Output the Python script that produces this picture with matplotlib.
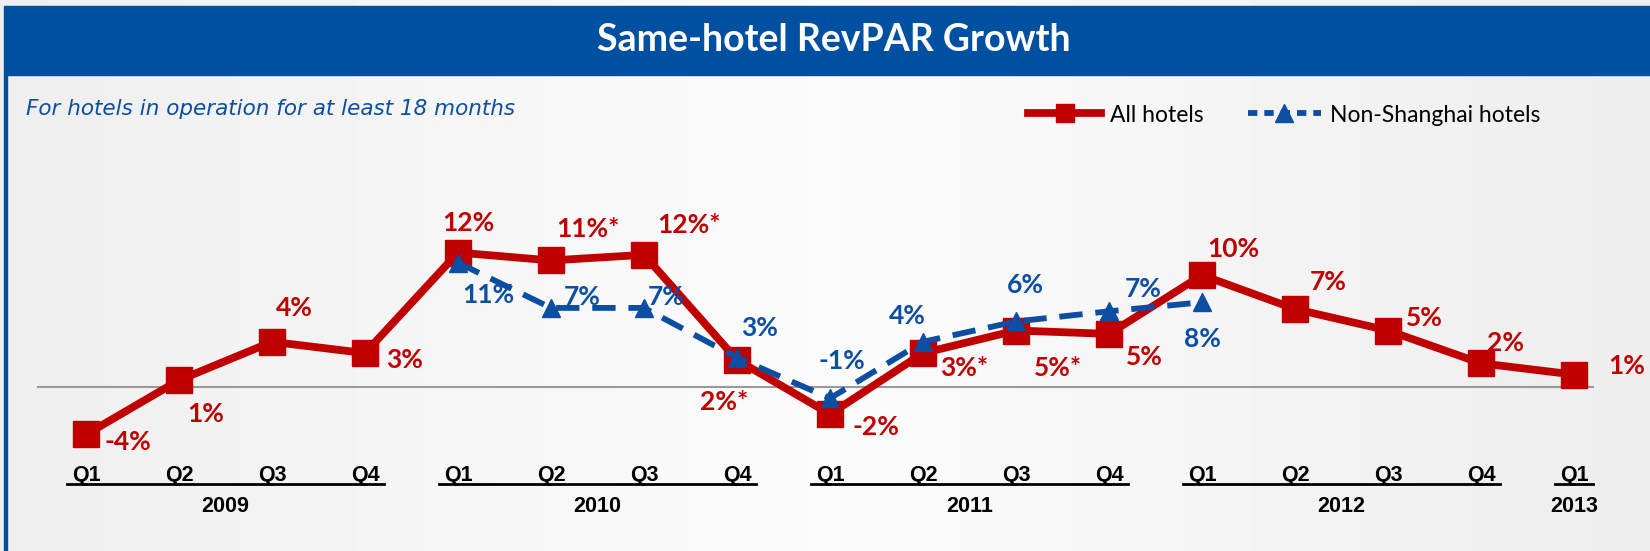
import numpy as np
import matplotlib
matplotlib.use("Agg")
import matplotlib.pyplot as plt
from matplotlib.patches import Rectangle
from matplotlib.lines import Line2D
import matplotlib.transforms as mtransforms

# ---------------------------------------------------------------
# data
# ---------------------------------------------------------------
quarters = ['Q1', 'Q2', 'Q3', 'Q4', 'Q1', 'Q2', 'Q3', 'Q4', 'Q1', 'Q2', 'Q3', 'Q4',
            'Q1', 'Q2', 'Q3', 'Q4', 'Q1']
years = ['2009', '2010', '2011', '2012', '2013']
year_groups = [(0, 3), (4, 7), (8, 11), (12, 15), (16, 16)]

all_hotels = [-4.2, 0.6, 4.0, 3.0, 11.9, 11.2, 11.7, 2.4, -2.4, 3.0, 5.0, 4.7,
              9.9, 6.9, 5.0, 2.1, 1.1]
all_labels = ['-4%', '1%', '4%', '3%', '12%', '11%*', '12%*', '2%*', '-2%', '3%*', '5%*', '5%',
              '10%', '7%', '5%', '2%', '1%']

non_sh_idx = [4, 5, 6, 7, 8, 9, 10, 11, 12]
non_shanghai = [11.0, 7.0, 7.0, 2.6, -1.0, 4.0, 5.8, 6.7, 7.5]
non_sh_labels = ['11%', '7%', '7%', '3%', '-1%', '4%', '6%', '7%', '8%']

# label offsets in pixels (dx, dy up)
all_offsets = [(42, -8), (27, -34), (22, 34), (40, -7), (10, 30), (37, 31), (45, 30),
               (-13, -42), (46, -13), (41, -15), (42, -38), (35, -23), (31, 26),
               (33, 27), (36, 12), (24, 20), (53, 9)]
non_sh_offsets = [(30, -32), (31, 11), (22, 11), (23, 30), (12, 37), (-16, 26),
                  (9, 36), (34, 22), (0, -37)]

RED = '#C00000'
BLUE = '#0B4EA2'
BANNER = '#0050A2'

W, H = 1650, 551
fig = plt.figure(figsize=(W / 100, H / 100), dpi=100)

# background with soft gradient
bg = fig.add_axes([0, 0, 1, 1], zorder=-10)
grad = np.concatenate([np.linspace(0.935, 0.985, 60), np.linspace(0.985, 0.93, 60)])
bg.imshow(np.tile(grad, (2, 1)), cmap='gray', vmin=0, vmax=1, aspect='auto',
          extent=[0, 1, 0, 1])
bg.set_xlim(0, 1)
bg.set_ylim(0, 1)
bg.axis('off')

# banner + left border
fig.patches.append(Rectangle((6 / W, 1 - 75 / H), 1 - 6 / W, 69 / H,
                             transform=fig.transFigure, color=BANNER, zorder=1))
fig.patches.append(Rectangle((3.5 / W, 0), 3 / W, 1 - 6 / H,
                             transform=fig.transFigure, color=BANNER, zorder=1))
fig.text(834 / W, 1 - 40 / H, 'Same-hotel RevPAR Growth', color='white',
         fontsize=27, fontweight='bold', family='Lato', ha='center', va='center')
fig.text(26 / W, 1 - 109 / H, 'For hotels in operation for at least 18 months',
         color=BLUE, fontsize=15.5, style='italic', family='DejaVu Sans',
         ha='left', va='center')

# ---------------------------------------------------------------
# main axes
# ---------------------------------------------------------------
x0, xs = 86.0, 93.0       # pixel of index 0, pixels per quarter
y0, ys = 387.0, 11.3      # pixel of zero line, pixels per percent
xlo, xhi = -0.6, 16.6
ylo, yhi = -6.0, 16.0
left = (x0 + xlo * xs) / W
right = (x0 + xhi * xs) / W
top = 1 - (y0 - yhi * ys) / H
bottom = 1 - (y0 - ylo * ys) / H
ax = fig.add_axes([left, bottom, right - left, top - bottom])
ax.set_xlim(xlo, xhi)
ax.set_ylim(ylo, yhi)
ax.axis('off')

x_all = np.arange(len(all_hotels))
ax.hlines(0, -0.53, 16.22, color='#9a9a9a', lw=1.5, zorder=1)

l1, = ax.plot(x_all, all_hotels, color=RED, lw=5.6, marker='s', markersize=19,
              solid_joinstyle='miter', zorder=3, label='All hotels')
l2, = ax.plot(non_sh_idx, non_shanghai, color=BLUE, lw=4.2, ls=(0, (4, 2.2)),
              marker='^', markersize=13, zorder=4, label='Non-Shanghai hotels')

for xi, v, t, (dx, dy) in zip(x_all, all_hotels, all_labels, all_offsets):
    ax.annotate(t, (xi, v), xytext=(dx, dy), textcoords='offset pixels',
                color=RED, fontsize=19, fontweight='bold', family='Lato',
                ha='center', va='center', zorder=5)
for xi, v, t, (dx, dy) in zip(non_sh_idx, non_shanghai, non_sh_labels, non_sh_offsets):
    ax.annotate(t, (xi, v), xytext=(dx, dy), textcoords='offset pixels',
                color=BLUE, fontsize=19, fontweight='bold', family='Lato',
                ha='center', va='center', zorder=5)

# x axis labels: quarters, underline per year, year labels
trans = mtransforms.blended_transform_factory(ax.transData, fig.transFigure)
tick_font = ['Liberation Sans Narrow', 'Liberation Sans']
for xi, q in zip(x_all, quarters):
    ax.text(xi, 1 - 481 / H, q, transform=trans, fontsize=15.5, fontweight='bold',
            family=tick_font, ha='center', va='baseline')
for (a, b), yr in zip(year_groups, years):
    ax.add_line(Line2D([a - 0.2, b + 0.2], [1 - 484 / H, 1 - 484 / H], transform=trans,
                       color='black', lw=2, clip_on=False))
    ax.text((a + b) / 2, 1 - 506 / H, yr, transform=trans, fontsize=15.5,
            fontweight='bold', family=tick_font, ha='center', va='center')

# legend (short dashes for the blue handle like the original)
h2 = Line2D([], [], color=BLUE, lw=4.2, ls=(0, (1.6, 1.2)), marker='^', markersize=19)
fig.legend(handles=[l1, h2], labels=['All hotels', 'Non-Shanghai hotels'],
           loc='center left', bbox_to_anchor=(1028 / W, 1 - 115 / H),
           ncol=2, frameon=False, markerscale=0.7, handlelength=3.2, handletextpad=0.4,
           columnspacing=1.9, borderpad=0, borderaxespad=0,
           prop={'family': 'Lato', 'size': 16.5})

fig.savefig('out.png', dpi=100)
